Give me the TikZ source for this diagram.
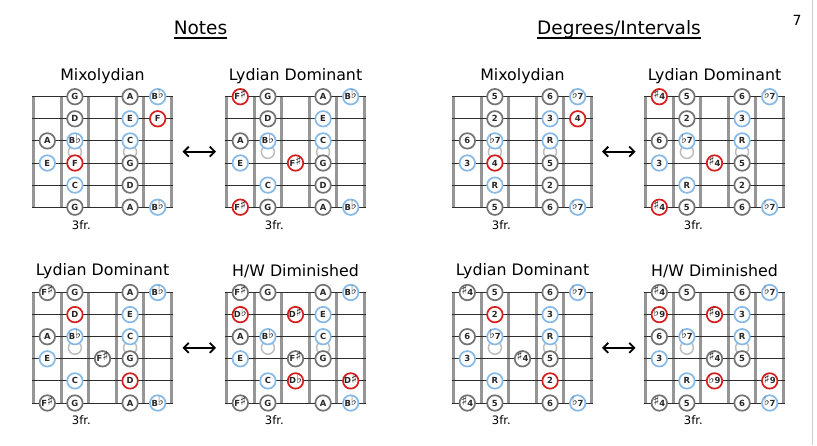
\documentclass[tikz,border=0pt]{standalone}
\usepackage{fontspec}
\setmainfont{DejaVu Sans}
\usetikzlibrary{arrows.meta}
\definecolor{fretgray}{RGB}{150,150,150}
\definecolor{stringc}{RGB}{45,45,45}
\definecolor{ngray}{RGB}{115,115,115}
\definecolor{nblue}{RGB}{135,185,230}
\definecolor{nred}{RGB}{215,30,30}
\definecolor{inlayc}{RGB}{190,190,190}
\definecolor{pageedge}{RGB}{205,205,205}
\newcommand\flt{\smash{\raisebox{0.9pt}{\fontsize{12.5}{12}\selectfont ♭}}}
\newcommand\shp{\smash{\raisebox{0.9pt}{\fontsize{12.5}{12}\selectfont ♯}}}
\tikzset{
  fretline/.style={draw=fretgray, line width=3pt},
  stringline/.style={draw=stringc, line width=0.9pt},
  note/.style={circle, fill=white, line width=1.7pt, minimum size=15.5pt, inner sep=0pt,
    font=\fontsize{8.4}{9}\selectfont\bfseries, text=black!85, text height=6.1pt, text depth=0pt},
  ngr/.style={note, draw=ngray},
  nbl/.style={note, draw=nblue},
  nrd/.style={note, draw=nred},
  inlaydot/.style={circle, draw=inlayc, fill=white, line width=1.5pt, minimum size=13pt, inner sep=0pt},
  titletext/.style={font=\fontsize{15.8}{18}\selectfont},
  headertext/.style={font=\fontsize{18.5}{21}\selectfont, anchor=base, inner sep=0pt},
  frlabel/.style={font=\fontsize{11.6}{13}\selectfont},
  swaparrow/.style={{Straight Barb[length=5pt,width=10pt]}-{Straight Barb[length=5pt,width=10pt]}, line width=1.8pt},
  uline/.style={line width=1.1pt}
}
\newcommand\fretboard[5]{%
  \begin{scope}[shift={(#2,#3)}]
    \foreach \i in {0,...,5} \draw[fretline] (\i*27.6,0) -- (\i*27.6,110.5);
    \foreach \j in {0,...,5} \draw[stringline] (-1.5,\j*22.1) -- (139.5,\j*22.1);
    \node[inlaydot] (#1-i3) at (1.5*27.6, 2.5*22.1) {};
    \node[inlaydot] (#1-i5) at (3.5*27.6, 2.5*22.1) {};
    \node[titletext] (#1-title) at (69,-21) {#4};
    \node[frlabel] (#1-fr) at (1.5*27.6+6.5, 128) {3fr.};
    \foreach \r/\c/\t/\s in {#5}
      \node[\s] (#1-\r-\c) at ({(\c-0.5)*27.6},{(\r-1)*22.1}) {\t};
  \end{scope}}
\begin{document}
\begin{tikzpicture}[x=1pt,y=-1pt]
\useasboundingbox (0,0) rectangle (817,445);
\fill[white] (0,0) rectangle (817,445);
\draw[pageedge, line width=1.5pt] (812.7,0) -- (812.7,445);
% headers
\node[headertext] (notes) at (200.5,34.3) {Notes};
\draw[uline] ([yshift=-3.7pt]notes.base west) -- ([yshift=-3.7pt]notes.base east);
\node[headertext] (degs) at (619,34.3) {Degrees/Intervals};
\draw[uline] ([yshift=-3.7pt]degs.base west) -- ([yshift=-3.7pt]degs.base east);
\node[font=\fontsize{14}{16}\selectfont] (pagenum) at (797,20) {7};
% ---- Notes, top row
\fretboard{n1}{33.5}{96.7}{Mixolydian}{
 1/2/G/ngr, 1/4/A/ngr, 1/5/B\flt/nbl,
 2/2/D/ngr, 2/4/E/nbl, 2/5/F/nrd,
 3/1/A/ngr, 3/2/B\flt/nbl, 3/4/C/nbl,
 4/1/E/nbl, 4/2/F/nrd, 4/4/G/ngr,
 5/2/C/nbl, 5/4/D/ngr,
 6/2/G/ngr, 6/4/A/ngr, 6/5/B\flt/nbl}
\fretboard{n2}{226.5}{96.7}{Lydian Dominant}{
 1/1/F\shp/nrd, 1/2/G/ngr, 1/4/A/ngr, 1/5/B\flt/nbl,
 2/2/D/ngr, 2/4/E/nbl,
 3/1/A/ngr, 3/2/B\flt/nbl, 3/4/C/nbl,
 4/1/E/nbl, 4/3/F\shp/nrd, 4/4/G/ngr,
 5/2/C/nbl, 5/4/D/ngr,
 6/1/F\shp/nrd, 6/2/G/ngr, 6/4/A/ngr, 6/5/B\flt/nbl}
% ---- Notes, bottom row
\fretboard{n3}{33.5}{292.5}{Lydian Dominant}{
 1/1/F\shp/ngr, 1/2/G/ngr, 1/4/A/ngr, 1/5/B\flt/nbl,
 2/2/D/nrd, 2/4/E/nbl,
 3/1/A/ngr, 3/2/B\flt/nbl, 3/4/C/nbl,
 4/1/E/nbl, 4/3/F\shp/ngr, 4/4/G/ngr,
 5/2/C/nbl, 5/4/D/nrd,
 6/1/F\shp/ngr, 6/2/G/ngr, 6/4/A/ngr, 6/5/B\flt/nbl}
\fretboard{n4}{226.5}{292.5}{H/W Diminished}{
 1/1/F\shp/ngr, 1/2/G/ngr, 1/4/A/ngr, 1/5/B\flt/nbl,
 2/1/D\flt/nrd, 2/3/D\shp/nrd, 2/4/E/nbl,
 3/1/A/ngr, 3/2/B\flt/nbl, 3/4/C/nbl,
 4/1/E/nbl, 4/3/F\shp/ngr, 4/4/G/ngr,
 5/2/C/nbl, 5/3/D\flt/nrd, 5/5/D\shp/nrd,
 6/1/F\shp/ngr, 6/2/G/ngr, 6/4/A/ngr, 6/5/B\flt/nbl}
% ---- Degrees, top row
\fretboard{d1}{453.5}{96.7}{Mixolydian}{
 1/2/5/ngr, 1/4/6/ngr, 1/5/\flt7/nbl,
 2/2/2/ngr, 2/4/3/nbl, 2/5/4/nrd,
 3/1/6/ngr, 3/2/\flt7/nbl, 3/4/R/nbl,
 4/1/3/nbl, 4/2/4/nrd, 4/4/5/ngr,
 5/2/R/nbl, 5/4/2/ngr,
 6/2/5/ngr, 6/4/6/ngr, 6/5/\flt7/nbl}
\fretboard{d2}{645.5}{96.7}{Lydian Dominant}{
 1/1/\shp4/nrd, 1/2/5/ngr, 1/4/6/ngr, 1/5/\flt7/nbl,
 2/2/2/ngr, 2/4/3/nbl,
 3/1/6/ngr, 3/2/\flt7/nbl, 3/4/R/nbl,
 4/1/3/nbl, 4/3/\shp4/nrd, 4/4/5/ngr,
 5/2/R/nbl, 5/4/2/ngr,
 6/1/\shp4/nrd, 6/2/5/ngr, 6/4/6/ngr, 6/5/\flt7/nbl}
% ---- Degrees, bottom row
\fretboard{d3}{453.5}{292.5}{Lydian Dominant}{
 1/1/\shp4/ngr, 1/2/5/ngr, 1/4/6/ngr, 1/5/\flt7/nbl,
 2/2/2/nrd, 2/4/3/nbl,
 3/1/6/ngr, 3/2/\flt7/nbl, 3/4/R/nbl,
 4/1/3/nbl, 4/3/\shp4/ngr, 4/4/5/ngr,
 5/2/R/nbl, 5/4/2/nrd,
 6/1/\shp4/ngr, 6/2/5/ngr, 6/4/6/ngr, 6/5/\flt7/nbl}
\fretboard{d4}{645.5}{292.5}{H/W Diminished}{
 1/1/\shp4/ngr, 1/2/5/ngr, 1/4/6/ngr, 1/5/\flt7/nbl,
 2/1/\flt9/nrd, 2/3/\shp9/nrd, 2/4/3/nbl,
 3/1/6/ngr, 3/2/\flt7/nbl, 3/4/R/nbl,
 4/1/3/nbl, 4/3/\shp4/ngr, 4/4/5/ngr,
 5/2/R/nbl, 5/3/\flt9/nrd, 5/5/\shp9/nrd,
 6/1/\shp4/ngr, 6/2/5/ngr, 6/4/6/ngr, 6/5/\flt7/nbl}
% ---- arrows
\coordinate (a1l) at (182.5,151.7); \coordinate (a1r) at (216,151.7);
\coordinate (a2l) at (602,151.7);   \coordinate (a2r) at (635.5,151.7);
\coordinate (a3l) at (182.5,347.8); \coordinate (a3r) at (216,347.8);
\coordinate (a4l) at (602,347.8);   \coordinate (a4r) at (635.5,347.8);
\draw[swaparrow] (a1l) -- (a1r);
\draw[swaparrow] (a2l) -- (a2r);
\draw[swaparrow] (a3l) -- (a3r);
\draw[swaparrow] (a4l) -- (a4r);
\end{tikzpicture}
\end{document}
